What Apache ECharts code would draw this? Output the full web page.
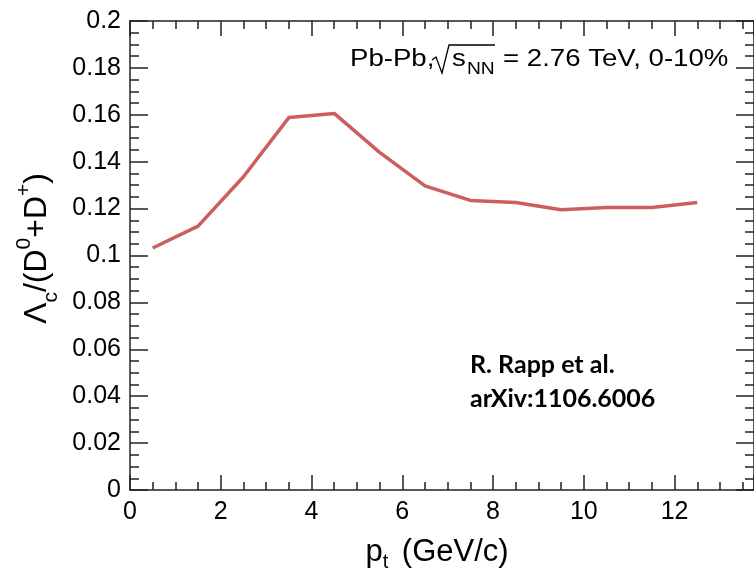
<!DOCTYPE html>
<html>
<head>
<meta charset="utf-8">
<script src="https://cdn.jsdelivr.net/npm/echarts@6/dist/echarts.min.js"></script>
<style>html,body{margin:0;padding:0;background:#fff;}#c{width:754px;height:577px;}</style>
</head>
<body>
<div id="c"></div>
<script>
const ptValues = [0.5, 1.5, 2.5, 3.5, 4.5, 5.5, 6.5, 7.5, 8.5, 9.5, 10.5, 11.5, 12.5];
const ratioValues = [0.1032, 0.1125, 0.1336, 0.1588, 0.1606, 0.1440, 0.1297, 0.1235, 0.1226, 0.1195, 0.1205, 0.1205, 0.1226];
const annotationText = ['Pb-Pb,', 's', 'NN', '= 2.76 TeV, 0-10%'];
const refText = ['R. Rapp et al.', 'arXiv:1106.6006'];

const chart = echarts.init(document.getElementById('c'), null, {renderer: 'canvas'});
const axisColor = '#222';
const labelFont = 'Liberation Sans, Arial, sans-serif';

function baseAxis(extra) {
  return Object.assign({
    axisLine: {show: true, onZero: false, lineStyle: {color: axisColor, width: 1.5}},
    splitLine: {show: false},
    minorSplitLine: {show: false}
  }, extra);
}

const sx = 1.2;
const option = {
  animation: false,
  backgroundColor: '#fff',
  grid: {left: 130, top: 21, width: 627, height: 473},
  xAxis: [
    baseAxis({
      type: 'value', min: 0, max: 13.75, interval: 2, position: 'bottom',
      axisTick: {inside: true, length: 15, lineStyle: {color: axisColor, width: 1.5}},
      minorTick: {show: true, splitNumber: 4, length: 8, lineStyle: {color: axisColor, width: 1.5}},
      axisLabel: {fontSize: 25, color: '#000', fontFamily: labelFont, margin: 10, showMaxLabel: false},
      name: '{a|p}{sub|t}{a| (GeV/c)}',
      nameLocation: 'middle', nameGap: 42,
      nameTextStyle: {
        fontFamily: labelFont, color: '#000', fontSize: 31,
        padding: [0, 10, 0, 0],
        rich: {
          a: {fontFamily: labelFont, fontSize: 31, color: '#000', lineHeight: 40, verticalAlign: 'middle'},
          sub: {fontFamily: labelFont, fontSize: 20, color: '#000', lineHeight: 40, verticalAlign: 'bottom', padding: [0, 5, 0, 0]}
        }
      }
    }),
    baseAxis({
      type: 'value', min: 0, max: 13.75, interval: 2, position: 'top',
      axisTick: {inside: true, length: 15, lineStyle: {color: axisColor, width: 1.5}},
      minorTick: {show: true, splitNumber: 4, length: 8, lineStyle: {color: axisColor, width: 1.5}},
      axisLabel: {show: false}
    })
  ],
  yAxis: [
    baseAxis({
      type: 'value', min: 0, max: 0.2, interval: 0.02, position: 'left',
      axisTick: {inside: true, length: 18, lineStyle: {color: axisColor, width: 1.5}},
      minorTick: {show: true, splitNumber: 4, length: 9, lineStyle: {color: axisColor, width: 1.5}},
      axisLabel: {fontSize: 25, color: '#000', fontFamily: labelFont, margin: 9},
      name: '{a|\u039B}{sub|c}{a|/(D}{sup|0}{a|+D}{sup|+}{a|)}',
      nameLocation: 'middle', nameGap: 64, nameRotate: 90,
      nameTextStyle: {
        fontFamily: labelFont, color: '#000', fontSize: 32,
        padding: [0, 0, 0, 14],
        rich: {
          a: {fontFamily: labelFont, fontSize: 32, color: '#000', lineHeight: 48, verticalAlign: 'middle'},
          sub: {fontFamily: labelFont, fontSize: 21, color: '#000', lineHeight: 48, verticalAlign: 'bottom'},
          sup: {fontFamily: labelFont, fontSize: 21, color: '#000', lineHeight: 48, verticalAlign: 'top'}
        }
      }
    }),
    baseAxis({
      type: 'value', min: 0, max: 0.2, interval: 0.02, position: 'right',
      axisTick: {inside: true, length: 18, lineStyle: {color: axisColor, width: 1.5}},
      minorTick: {show: true, splitNumber: 4, length: 9, lineStyle: {color: axisColor, width: 1.5}},
      axisLabel: {show: false}
    })
  ],
  series: [{
    type: 'line',
    data: ptValues.map((x, i) => [x, ratioValues[i]]),
    symbol: 'none',
    lineStyle: {color: '#cc5e60', width: 3.5},
    z: 5
  }],
  graphic: [
    {
      type: 'group', x: 350, y: 0, scaleX: sx, scaleY: 1,
      children: [
        {type: 'text', x: 0, y: 71, style: {text: annotationText[0], font: '23px ' + labelFont, fill: '#000', verticalAlign: 'bottom'}},
        {type: 'text', x: (452 - 350) / sx, y: 71, style: {text: annotationText[1], font: '23px ' + labelFont, fill: '#000', verticalAlign: 'bottom'}},
        {type: 'text', x: (467 - 350) / sx, y: 78, style: {text: annotationText[2], font: '16px ' + labelFont, fill: '#000', verticalAlign: 'bottom'}},
        {type: 'text', x: (503 - 350) / sx, y: 71, style: {text: annotationText[3], font: '23px ' + labelFont, fill: '#000', verticalAlign: 'bottom'}}
      ]
    },
    {
      type: 'polyline',
      shape: {points: [[432, 60], [436, 57], [442, 73], [449, 45], [495, 45]]},
      style: {stroke: '#000', lineWidth: 1.3, fill: null}
    },
    {type: 'text', x: 470, y: 365, style: {text: refText[0], font: 'bold 25px Lato, "Open Sans", sans-serif', fill: '#000', verticalAlign: 'middle'}},
    {type: 'text', x: 470, y: 399, style: {text: refText[1], font: 'bold 25px Lato, "Open Sans", sans-serif', fill: '#000', verticalAlign: 'middle'}}
  ]
};
chart.setOption(option);
</script>
</body>
</html>
